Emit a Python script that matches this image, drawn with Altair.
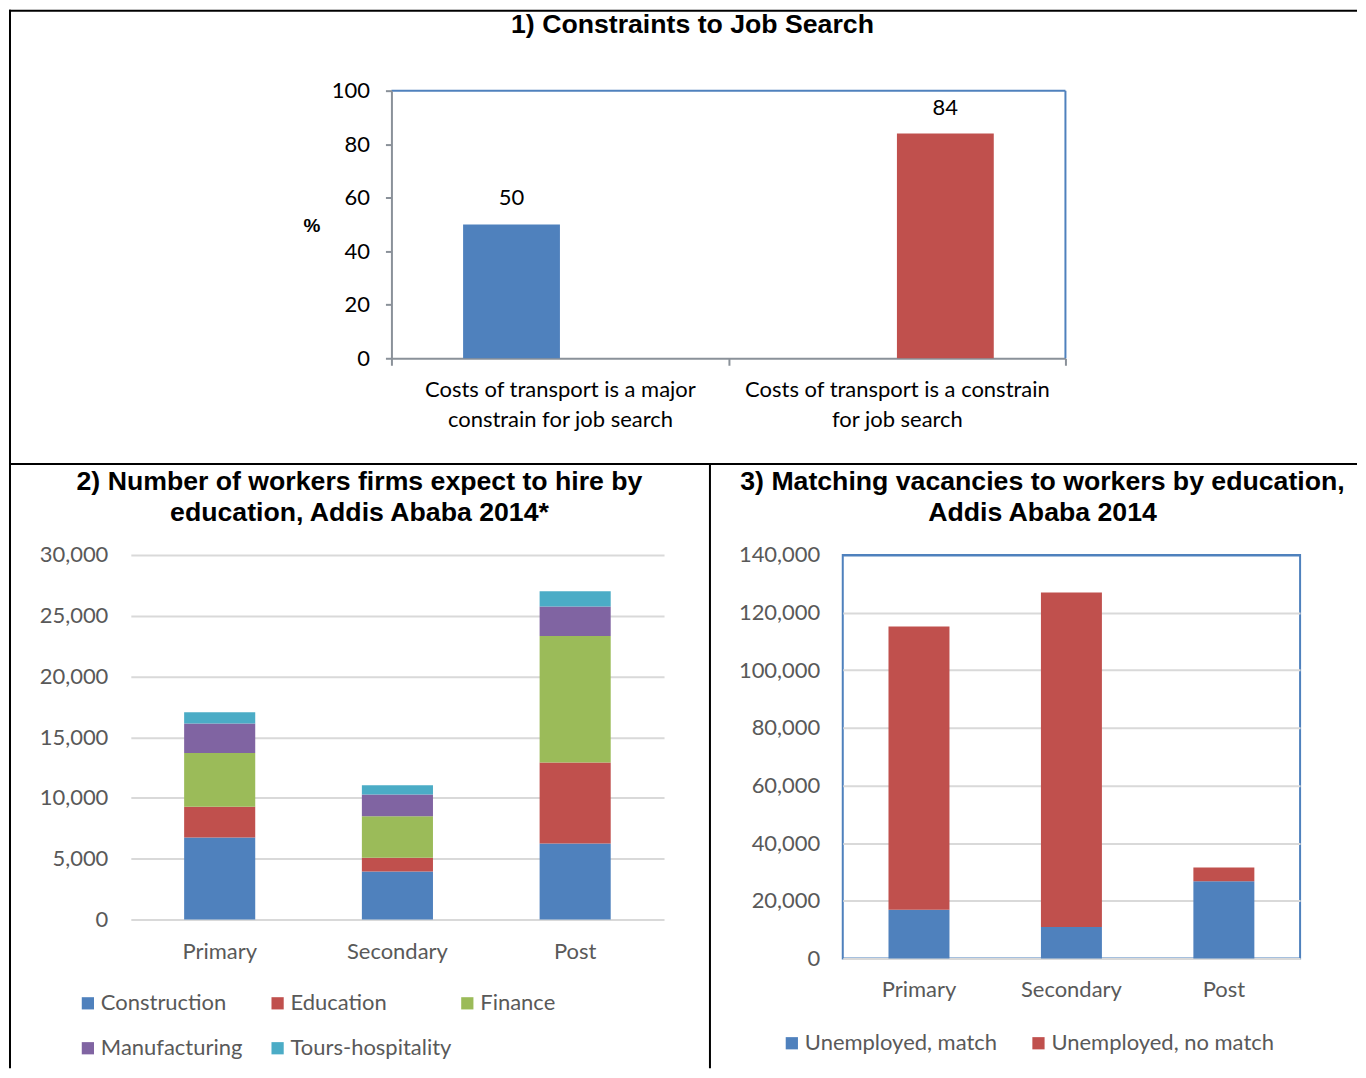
import altair as alt
import pandas as pd

# ---------------- data ----------------
# Panel 1: Constraints to job search (%)
p1_categories = ["Costs of transport is a major|constrain for job search",
                 "Costs of transport is a constrain|for job search"]
p1_series = ["Major constraint", "Constraint"]
p1_values = [50, 84]
p1_colors = ["#4F81BD", "#C0504D"]
p1_ticks = [0, 20, 40, 60, 80, 100]
p1_title = "1) Constraints to Job Search"

# Panel 2: workers firms expect to hire by education
p2_levels = ["Primary", "Secondary", "Post"]
p2_sectors = ["Construction", "Education", "Finance", "Manufacturing", "Tours-hospitality"]
p2_construction = [6750, 3950, 6250]
p2_education = [2520, 1120, 6660]
p2_finance = [4440, 3430, 10420]
p2_manufacturing = [2410, 1780, 2420]
p2_tours = [940, 770, 1260]
p2_colors = ["#4F81BD", "#C0504D", "#9BBB59", "#8064A2", "#4BACC6"]
p2_ticks = [0, 5000, 10000, 15000, 20000, 25000, 30000]
p2_title = ["2) Number of workers firms expect to hire by", "education, Addis Ababa 2014*"]

# Panel 3: matching vacancies to workers
p3_levels = ["Primary", "Secondary", "Post"]
p3_groups = ["Unemployed, match", "Unemployed, no match"]
p3_match = [16900, 10900, 26800]
p3_nomatch = [98300, 116100, 4700]
p3_colors = ["#4F81BD", "#C0504D"]
p3_ticks = [0, 20000, 40000, 60000, 80000, 100000, 120000, 140000]
p3_title = ["3) Matching vacancies to workers by education,", "Addis Ababa 2014"]

# ---------------- style ----------------
LF = "Lato"
TF = "Liberation Sans"
GREY = "#8A9199"
LGREY = "#595959"
GRID = "#D9D9D9"
BLUE = "#4F81BD"
TSIZE = 26.7

# ---------------- panel 1 ----------------
# The view of panel 1 starts at the left edge of panel 2; the bars use the right part of it.
W1, H1 = 936, 268
X1_START = 261
df1 = pd.DataFrame({"cat": p1_categories, "series": p1_series, "value": p1_values})

x1 = alt.X("cat:N", sort=p1_categories,
           scale=alt.Scale(range=[X1_START, W1], paddingInner=0, paddingOuter=0),
           axis=alt.Axis(title=None, labelExpr="split(datum.label, '|')", labelAngle=0,
                         labelFont=LF, labelFontSize=22, labelColor="black",
                         labelLineHeight=30, labelPadding=14, labelLimit=0,
                         tickBand="extent", tickSize=7, tickColor=GREY, tickWidth=2,
                         domainColor=GREY, domainWidth=2))
xo1 = alt.XOffset("series:N", sort=p1_series,
                  scale=alt.Scale(paddingInner=0, paddingOuter=0.74))
y1 = alt.Y("value:Q", scale=alt.Scale(domain=[0, 100], nice=False),
           axis=alt.Axis(values=p1_ticks, title="%", titleAngle=0, titleFont=TF,
                         titleFontWeight="bold", titleFontSize=19, titleColor="black",
                         titleX=-80, titleY=135, titleAlign="center", titleBaseline="middle",
                         grid=False, domainColor=GREY, domainWidth=2, tickColor=GREY,
                         tickWidth=2, tickSize=6, labelPadding=16, labelFont=LF,
                         labelFontSize=22, labelColor="black", offset=-X1_START, zindex=2))
color1 = alt.Color("series:N", scale=alt.Scale(domain=p1_series, range=p1_colors), legend=None)

one = pd.DataFrame({"d": [0]})

# plot-area frame of panel 1 (blue top and right edges)
frame_top = alt.Chart(one).mark_rule(color=BLUE, strokeWidth=2).encode(
    x=alt.value(X1_START), x2=alt.value(W1), y=alt.value(0))
frame_right = alt.Chart(one).mark_rule(color=BLUE, strokeWidth=2).encode(
    x=alt.value(W1), y=alt.value(0), y2=alt.value(H1))

bars1 = alt.Chart(df1).mark_bar().encode(x=x1, xOffset=xo1, y=y1, color=color1)
text1 = alt.Chart(df1).mark_text(baseline="alphabetic", dy=-19, font=LF, fontSize=22,
                                 color="black").encode(x=x1, xOffset=xo1, y=y1, text="value:Q")
title1 = alt.Chart(one).mark_text(text=p1_title, font=TF, fontSize=TSIZE, fontWeight="bold",
                                  color="black", align="center", baseline="middle").encode(
    x=alt.value(562.5), y=alt.value(-66))

# page borders (document table lines), relative to panel 1's view origin
rule_style = dict(color="black", strokeWidth=2)
top_line = alt.Chart(one).mark_rule(**rule_style).encode(
    x=alt.value(-122), x2=alt.value(1228), y=alt.value(-80))
left_line = alt.Chart(one).mark_rule(**rule_style).encode(
    x=alt.value(-121), y=alt.value(-81), y2=alt.value(979))
mid_line = alt.Chart(one).mark_rule(**rule_style).encode(
    x=alt.value(-122), x2=alt.value(1228), y=alt.value(374))
div_line = alt.Chart(one).mark_rule(**rule_style).encode(
    x=alt.value(580), y=alt.value(374), y2=alt.value(979))

chart1 = alt.layer(frame_top, frame_right, bars1, text1, title1,
                   top_line, left_line, mid_line, div_line).properties(width=W1, height=H1)

# ---------------- panel 2 ----------------
p2_cols = [p2_construction, p2_education, p2_finance, p2_manufacturing, p2_tours]
rows2 = []
for i, lvl in enumerate(p2_levels):
    for k, sec in enumerate(p2_sectors):
        rows2.append({"level": lvl, "sector": sec, "k": k, "value": p2_cols[k][i]})
df2 = pd.DataFrame(rows2)

chart2 = alt.Chart(df2).mark_bar().encode(
    x=alt.X("level:N", sort=p2_levels, scale=alt.Scale(paddingInner=0.6, paddingOuter=0.3),
            axis=alt.Axis(title=None, labelAngle=0, domain=False, ticks=False, labelFont=LF,
                          labelFontSize=22, labelColor=LGREY, labelPadding=22)),
    y=alt.Y("value:Q", stack="zero", scale=alt.Scale(domain=[0, 30000], nice=False),
            axis=alt.Axis(title=None, values=p2_ticks, format=",.0f", grid=True, gridColor=GRID,
                          gridWidth=2, domain=False, ticks=False, labelPadding=23,
                          labelFont=LF, labelFontSize=22, labelColor=LGREY)),
    color=alt.Color("sector:N", sort=p2_sectors,
                    scale=alt.Scale(domain=p2_sectors, range=p2_colors),
                    legend=alt.Legend(title=None, orient="none", legendX=-54, legendY=438,
                                      direction="horizontal", columns=3, gridAlign="all",
                                      columnPadding=4, rowPadding=23, symbolType="square",
                                      symbolSize=150, symbolStrokeWidth=0, labelFont=LF,
                                      labelFontSize=22, labelColor=LGREY, labelOffset=2,
                                      padding=0, labelLimit=0)),
    order=alt.Order("k:Q", sort="ascending"),
).properties(
    width=534, height=365,
    title=alt.TitleParams(p2_title, font=TF, fontSize=TSIZE, fontWeight="bold", color="black",
                          anchor="middle", frame="group", dx=-38, dy=10, offset=0,
                          baseline="bottom", lineHeight=31))

# ---------------- panel 3 ----------------
rows3 = []
for i, lvl in enumerate(p3_levels):
    rows3.append({"level": lvl, "group": p3_groups[0], "k": 0, "value": p3_match[i]})
    rows3.append({"level": lvl, "group": p3_groups[1], "k": 1, "value": p3_nomatch[i]})
df3 = pd.DataFrame(rows3)

chart3 = alt.Chart(df3).mark_bar().encode(
    x=alt.X("level:N", sort=p3_levels, scale=alt.Scale(paddingInner=0.6, paddingOuter=0.3),
            axis=alt.Axis(title=None, labelAngle=0, domain=False, ticks=False, labelFont=LF,
                          labelFontSize=22, labelColor=LGREY, labelPadding=21)),
    y=alt.Y("value:Q", stack="zero", scale=alt.Scale(domain=[0, 140000], nice=False),
            axis=alt.Axis(title=None, values=p3_ticks, format=",.0f", grid=True,
                          gridColor={"condition": {"test": "datum.value == 140000", "value": BLUE},
                                     "value": GRID},
                          gridWidth=2, domain=False, ticks=False, labelPadding=23,
                          labelFont=LF, labelFontSize=22, labelColor=LGREY)),
    color=alt.Color("group:N", sort=p3_groups,
                    scale=alt.Scale(domain=p3_groups, range=p3_colors),
                    legend=alt.Legend(title=None, orient="none", legendX=-62, legendY=478,
                                      direction="horizontal", columnPadding=30,
                                      symbolType="square", symbolSize=150, symbolStrokeWidth=0,
                                      labelFont=LF, labelFontSize=22, labelColor=LGREY,
                                      labelOffset=2, padding=0, labelLimit=0)),
    order=alt.Order("k:Q", sort="ascending"),
).properties(
    width=458, height=404,
    title=alt.TitleParams(p3_title, font=TF, fontSize=TSIZE, fontWeight="bold", color="black",
                          anchor="middle", frame="group", dx=-29, dy=10, offset=0,
                          baseline="bottom", lineHeight=31),
    view=alt.ViewBackground(stroke=BLUE, strokeWidth=2))

bottom_row = alt.hconcat(chart2, chart3, spacing=179, bounds="flush").resolve_scale(
    color="independent")

chart = alt.vconcat(chart1, bottom_row, spacing=197, bounds="flush").resolve_scale(
    color="independent").properties(padding=0, background="white").configure_view(stroke=None)

chart.save("out.html", embed_options={"renderer": "svg", "actions": False})
